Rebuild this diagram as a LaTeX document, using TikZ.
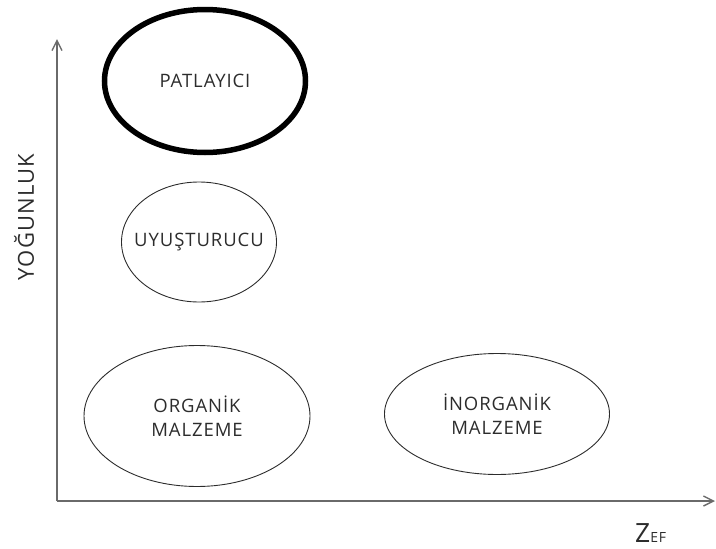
\documentclass[tikz,border=0pt]{standalone}
\usepackage{fontspec}
\setmainfont{Open Sans}[LetterSpace=5]
\usepackage{tikz}
\usetikzlibrary{shapes.geometric, arrows.meta}
\definecolor{textgray}{HTML}{2C2C2C}
\definecolor{axisgray}{HTML}{6A6A6A}

\begin{document}
\begin{tikzpicture}[
    x=1pt, y=-1pt,
    blob/.style={ellipse, draw=textgray, line width=0.9pt, inner sep=0pt},
    lbl/.style={text=textgray, align=center, font=\fontsize{18.5}{24}\selectfont},
    axis/.style={draw=axisgray, line width=1.4pt, -{Straight Barb[length=10pt, width=10pt]}}
]
    \useasboundingbox (0,0) rectangle (716,549);
    \coordinate (origin) at (57,501);
    \coordinate (ytop) at (57,39);
    \coordinate (xend) at (715,501);

    \node[blob, line width=5.5pt, draw=black, minimum width=201pt, minimum height=143pt,
        label={[lbl]center:PATLAYICI}] (patlayici) at (205,81) {};
    \node[blob, minimum width=155pt, minimum height=120pt,
        label={[lbl]center:UYUŞTURUCU}] (uyusturucu) at (199,242) {};
    \node[blob, minimum width=226pt, minimum height=141pt,
        label={[lbl]center:{ORGANİK\\MALZEME}}] (organik) at (197,416) {};
    \node[blob, minimum width=225pt, minimum height=121pt,
        label={[lbl]center:{İNORGANİK\\MALZEME}}] (inorganik) at (497,414) {};

    \draw[axis] (origin) -- (ytop);
    \draw[axis] (origin) -- (xend);

    \node[lbl, rotate=90, font=\fontsize{22}{24}\selectfont] (ylabel) at (24,217) {YOĞUNLUK};
    \node[lbl, anchor=base west, inner sep=0pt, font=\fontsize{26.5}{30}\selectfont] (xlabel) at (635,542) {Z{\fontsize{14}{16}\selectfont EF}};
\end{tikzpicture}
\end{document}
